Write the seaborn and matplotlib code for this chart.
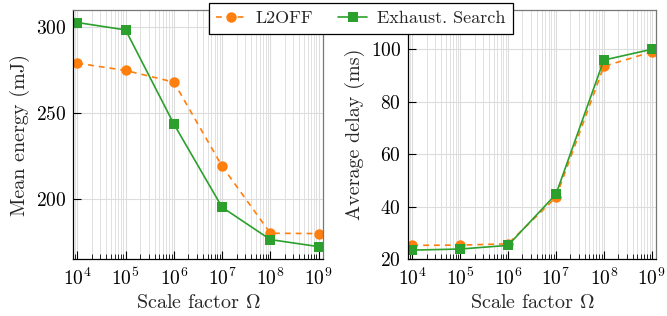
import pandas as pd
import matplotlib.pyplot as plt
import matplotlib.ticker as mticker
import seaborn as sns

# --- data ---
scale = [1e4, 1e5, 1e6, 1e7, 1e8, 1e9]
energy_l2off = [279, 274.8, 268, 219, 180, 179.8]
energy_exh = [302.7, 298.4, 243.6, 195.1, 176.3, 172.2]
delay_l2off = [25.2, 25.3, 25.8, 43.5, 93.5, 99.0]
delay_exh = [23.4, 23.8, 25.2, 44.7, 95.9, 100.0]

sns.set_style("whitegrid")
plt.rcParams["font.family"] = ["cmr10", "DejaVu Serif"]
plt.rcParams["mathtext.fontset"] = "cm"
plt.rcParams["axes.formatter.use_mathtext"] = True

ORANGE = "#ff7f0e"
GREEN = "#2ca02c"

fig = plt.figure(figsize=(6.67, 3.16), dpi=100)
ax1 = fig.add_axes([73 / 667, 57 / 316, 250 / 667, 249 / 316])
ax2 = fig.add_axes([408 / 667, 57 / 316, 248 / 667, 249 / 316])


def draw(ax, y_l2, y_ex, ylabel, ylim, yticks):
    ax.set_xscale("log")
    df = pd.DataFrame({"x": scale, "l2": y_l2, "ex": y_ex})
    sns.lineplot(data=df, x="x", y="l2", ax=ax, color=ORANGE, dashes=(3.5, 3),
                 marker="o", markersize=7.5, markeredgewidth=0, linewidth=1.2,
                 label="L2OFF", legend=False)
    sns.lineplot(data=df, x="x", y="ex", ax=ax, color=GREEN, linestyle="-",
                 marker="s", markersize=7, markeredgewidth=0, linewidth=1.2,
                 label="Exhaust. Search", legend=False)
    ax.set_xlim(10 ** 3.91, 10 ** 9.09)
    ax.set_ylim(*ylim)
    ax.set_yticks(yticks)
    ax.xaxis.set_major_locator(mticker.LogLocator(base=10, numticks=10))
    ax.xaxis.set_minor_locator(mticker.LogLocator(base=10, subs=range(2, 10), numticks=20))
    ax.xaxis.set_minor_formatter(mticker.NullFormatter())
    ax.grid(True, which="major", color="#dcdcdc", linewidth=0.8)
    ax.grid(True, which="minor", axis="x", color="#dcdcdc", linewidth=0.6)
    ax.set_axisbelow(True)
    for side in ("left", "bottom"):
        ax.spines[side].set_color("black")
        ax.spines[side].set_linewidth(0.9)
    for side in ("top", "right"):
        ax.spines[side].set_color("#777777")
        ax.spines[side].set_linewidth(0.9)
    ax.tick_params(axis="x", which="major", direction="in", length=6, width=0.8,
                   bottom=True, top=False, labelsize=14, pad=6, colors="black")
    ax.tick_params(axis="x", which="minor", direction="in", length=3.5, width=0.6,
                   bottom=True, top=False, colors="black")
    ax.tick_params(axis="y", direction="in", length=6, width=0.8, left=True,
                   labelsize=14, pad=5, colors="black")
    ax.set_xlabel(r"Scale factor $\Omega$", fontsize=14.5)
    ax.set_ylabel(ylabel, fontsize=14.5)


draw(ax1, energy_l2off, energy_exh, "Mean energy (mJ)", (165, 310), [200, 250, 300])
draw(ax2, delay_l2off, delay_exh, "Average delay (ms)", (20, 115), [20, 40, 60, 80, 100])

handles, labels = ax1.get_legend_handles_labels()
leg = fig.legend(handles, labels, loc="center", bbox_to_anchor=(361 / 667, 1 - 18.5 / 316),
                 ncol=2, fontsize=13, frameon=True, fancybox=False, framealpha=1,
                 edgecolor="black", handlelength=1.6, columnspacing=1.4,
                 borderpad=0.4, handletextpad=0.55, borderaxespad=0)
leg.get_frame().set_linewidth(0.9)

plt.savefig("out.png", dpi=100)
